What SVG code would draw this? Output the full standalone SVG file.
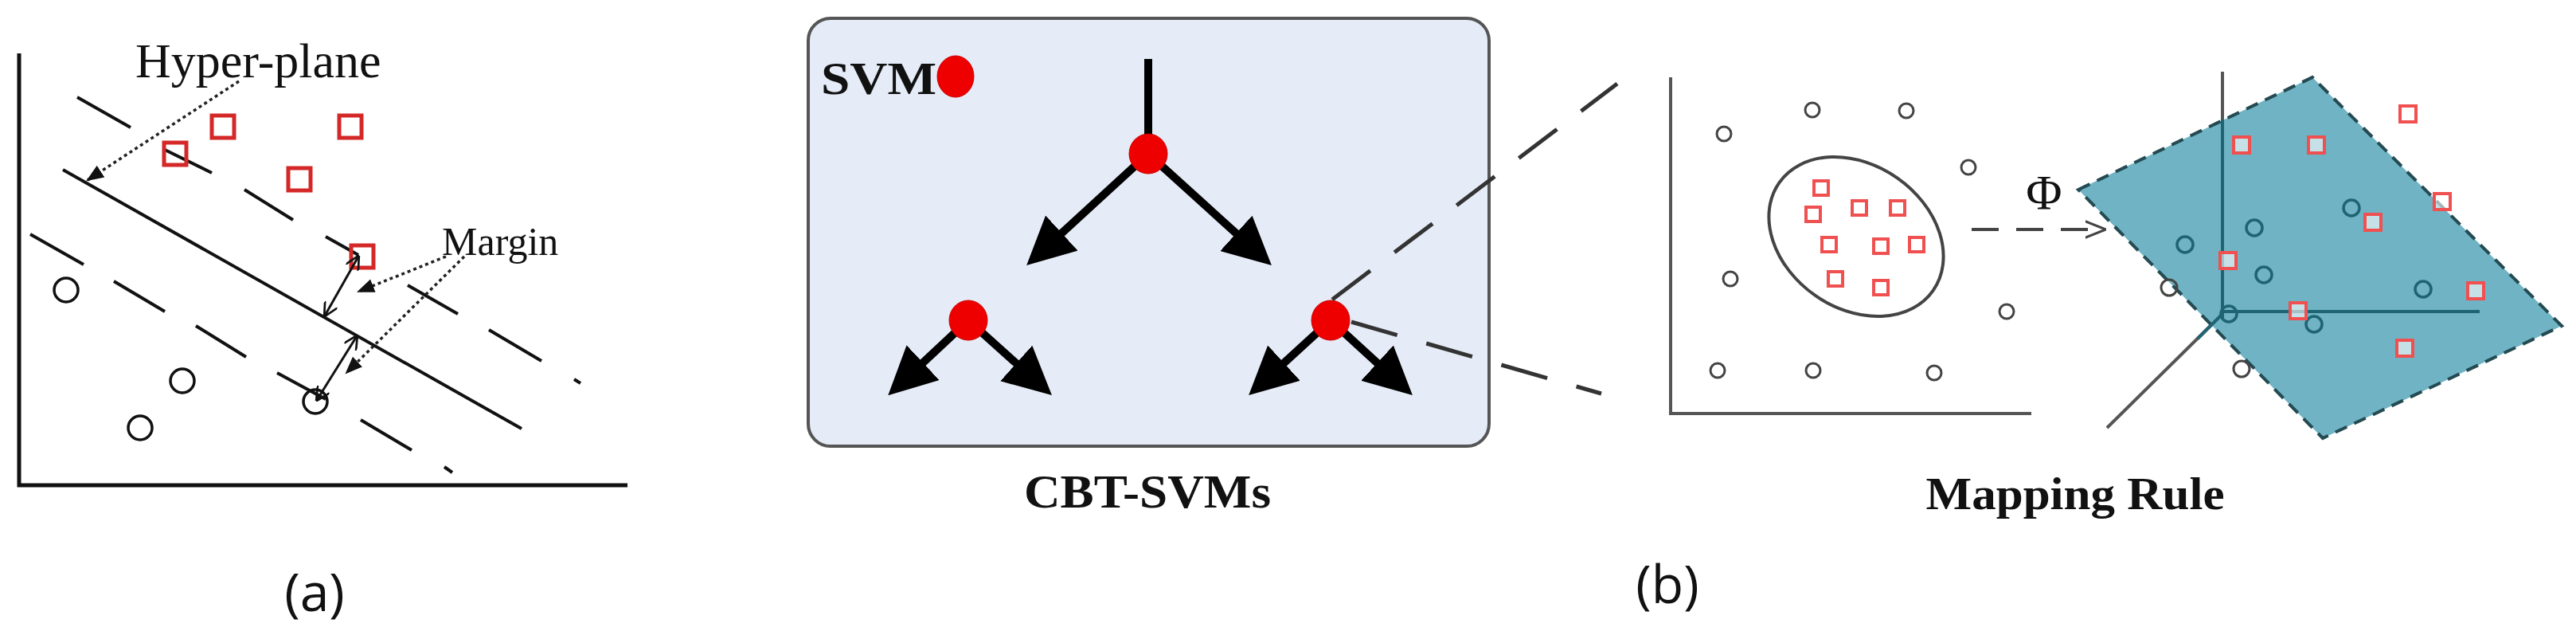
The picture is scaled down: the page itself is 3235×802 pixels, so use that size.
<svg xmlns="http://www.w3.org/2000/svg" width="3235" height="802" viewBox="0 0 3235 802">
<defs>
<style>
.ax{stroke:#111;stroke-width:5;fill:none}
.ln{stroke:#111;stroke-width:4;fill:none}
.dot{stroke:#222;stroke-width:3.5;fill:none;stroke-dasharray:4 4}
.sq{fill:none;stroke:#d42828;stroke-width:5}
.ci{fill:none;stroke:#111;stroke-width:3.5}
.ser{font-family:"Liberation Serif",serif;fill:#111}
.lab{font-family:"Open Sans","Liberation Sans",sans-serif;fill:#111;font-size:66px}
.arr{stroke:#000;stroke-width:10;fill:none}
.node{fill:#ee0000;stroke:#c00;stroke-width:1}
.dash{stroke:#333;stroke-width:5;stroke-dasharray:60 38;fill:none}
.gax{stroke:#555;stroke-width:4;fill:none}
.gc{fill:none;stroke:#444;stroke-width:3}
.rs{fill:#fff;fill-opacity:0.6;stroke:#f05050;stroke-width:4}
.tc{fill:none;stroke:#1f6472;stroke-width:3.5}
</style>
<marker id="fa2" viewBox="0 0 10 10" refX="9" refY="5" markerWidth="22" markerHeight="22" orient="auto" markerUnits="userSpaceOnUse"><path d="M0,1 L10,5 L0,9 z" fill="#111"/></marker>
<marker id="oa" viewBox="0 0 10 10" refX="9" refY="5" markerWidth="18" markerHeight="18" orient="auto-start-reverse" markerUnits="userSpaceOnUse"><path d="M0,0 L10,5 L0,10" fill="none" stroke="#111" stroke-width="1.5"/></marker>
<marker id="big" viewBox="0 0 10 10" refX="8" refY="5" markerWidth="6" markerHeight="6" orient="auto"><path d="M0,0 L10,5 L0,10 z" fill="#000"/></marker>
<marker id="pa" viewBox="0 0 10 10" refX="9" refY="5" markerWidth="26" markerHeight="26" orient="auto" markerUnits="userSpaceOnUse"><path d="M0,1 L10,5 L0,9" fill="none" stroke="#444" stroke-width="1.2"/></marker>
</defs>
<rect width="3235" height="802" fill="#fff"/>

<g id="panel-a">
<path class="ax" d="M24,67 V609 H788"/>
<path class="ln" d="M79,213 L655,538"/>
<path class="ln" d="M97,122 L164,160 M205,187 L266,217 M307,238 L368,276 M409,297 L450,320 M512,358 L575,394 M614,414 L680,453 M721,476 L729,481"/>
<path class="ln" d="M38,294 L105,332 M143,353 L207,391 M246,409 L309,448 M348,468 L409,501 M453,527 L517,565 M558,586 L568,593"/>
<rect class="sq" x="206" y="179" width="28" height="28"/>
<rect class="sq" x="266" y="145" width="28" height="28"/>
<rect class="sq" x="426" y="145" width="28" height="28"/>
<rect class="sq" x="362" y="211" width="28" height="28"/>
<rect class="sq" x="441" y="308" width="28" height="28"/>
<circle class="ci" cx="83" cy="364" r="15"/>
<circle class="ci" cx="229" cy="478" r="15"/>
<circle class="ci" cx="176" cy="537" r="15"/>
<circle class="ci" cx="396" cy="504" r="15"/>
<text class="ser" x="170" y="97" font-size="62">Hyper-plane</text>
<text class="ser" x="555" y="320" font-size="50">Margin</text>
<path class="dot" d="M300,102 L110,226" marker-end="url(#fa2)"/>
<path class="dot" d="M560,322 L450,366" marker-end="url(#fa2)"/>
<path class="dot" d="M583,322 L435,468" marker-end="url(#fa2)"/>
<path stroke="#111" stroke-width="3" fill="none" d="M450,322 L408,396" marker-start="url(#oa)" marker-end="url(#oa)"/>
<path stroke="#111" stroke-width="3" fill="none" d="M448,422 L398,502" marker-start="url(#oa)" marker-end="url(#oa)"/>
<text class="lab" x="395" y="767" text-anchor="middle">(a)</text>
</g>

<g id="cbt-svms">
<rect x="1015" y="23" width="855" height="537" rx="28" fill="#e6ecf7" stroke="#555" stroke-width="4"/>
<text class="ser" x="1031" y="118" font-size="58" font-weight="bold" textLength="145" lengthAdjust="spacingAndGlyphs">SVM</text>
<ellipse class="node" cx="1200" cy="96" rx="23" ry="26"/>
<path class="arr" d="M1442,74 L1442,193"/>
<path class="arr" d="M1442,193 L1298,325" marker-end="url(#big)"/>
<path class="arr" d="M1442,193 L1588,325" marker-end="url(#big)"/>
<path class="arr" d="M1216,402 L1124,488" marker-end="url(#big)"/>
<path class="arr" d="M1216,402 L1312,488" marker-end="url(#big)"/>
<path class="arr" d="M1671,402 L1577,488" marker-end="url(#big)"/>
<path class="arr" d="M1671,402 L1765,488" marker-end="url(#big)"/>
<ellipse class="node" cx="1442" cy="193" rx="24" ry="25"/>
<ellipse class="node" cx="1216" cy="402" rx="24" ry="25"/>
<ellipse class="node" cx="1671" cy="402" rx="24" ry="25"/>
<text class="ser" x="1441" y="637" font-size="60" font-weight="bold" text-anchor="middle" textLength="310" lengthAdjust="spacingAndGlyphs">CBT-SVMs</text>
</g>

<g id="connectors">
<path class="dash" d="M1673,376 L2031,105"/>
<path class="dash" d="M1697,404 L2011,494"/>
</g>

<g id="input-space">
<path class="gax" d="M2098,97 V519 H2551"/>
<g class="gc">
<circle cx="2165" cy="168" r="9"/><circle cx="2276" cy="138" r="9"/><circle cx="2394" cy="139" r="9"/>
<circle cx="2472" cy="210" r="9"/><circle cx="2173" cy="350" r="9"/><circle cx="2520" cy="391" r="9"/>
<circle cx="2157" cy="465" r="9"/><circle cx="2277" cy="465" r="9"/><circle cx="2429" cy="468" r="9"/>
</g>
<ellipse cx="2331" cy="297" rx="118" ry="90" transform="rotate(35 2331 297)" fill="none" stroke="#444" stroke-width="4"/>
<g>
<rect class="rs" x="2278" y="227" width="18" height="18"/><rect class="rs" x="2268" y="260" width="18" height="18"/>
<rect class="rs" x="2326" y="252" width="18" height="18"/><rect class="rs" x="2374" y="252" width="18" height="18"/>
<rect class="rs" x="2288" y="298" width="18" height="18"/><rect class="rs" x="2353" y="300" width="18" height="18"/>
<rect class="rs" x="2398" y="298" width="18" height="18"/><rect class="rs" x="2296" y="341" width="18" height="18"/>
<rect class="rs" x="2353" y="352" width="18" height="18"/>
</g>
<text class="ser" x="2567" y="262" font-size="62" text-anchor="middle">Φ</text>
<path d="M2476,288 L2642,288" stroke="#444" stroke-width="4" stroke-dasharray="34 22" fill="none" marker-end="url(#pa)"/>
</g>

<g id="feature-space">
<path class="gax" d="M2791,90 L2791,399 M2791,394 L2646,537"/>
<polygon points="2610,238 2904,97 3217,409 2917,550" fill="#6fb3c4" stroke="#244a52" stroke-width="4" stroke-dasharray="16 10"/>
<path stroke="#1f6472" stroke-width="4" fill="none" d="M2791,150 L2791,399 M2791,391 L3114,391 M2791,394 L2760,425"/>
<g class="tc">
<circle cx="2744" cy="307" r="10"/><circle cx="2831" cy="286" r="10"/><circle cx="2953" cy="261" r="10"/>
<circle cx="2843" cy="345" r="10"/><circle cx="3043" cy="363" r="10"/><circle cx="2799" cy="394" r="10"/>
<circle cx="2906" cy="407" r="10"/>
</g>
<circle class="gc" cx="2724" cy="361" r="10"/>
<circle class="gc" cx="2815" cy="463" r="10"/>
<g>
<rect class="rs" x="2805" y="172" width="20" height="20"/><rect class="rs" x="2899" y="172" width="20" height="20"/>
<rect class="rs" x="3014" y="133" width="20" height="20"/><rect class="rs" x="3057" y="243" width="20" height="20"/>
<rect class="rs" x="2970" y="269" width="20" height="20"/><rect class="rs" x="2788" y="317" width="20" height="20"/>
<rect class="rs" x="3099" y="355" width="20" height="20"/><rect class="rs" x="2876" y="380" width="20" height="20"/>
<rect class="rs" x="3010" y="427" width="20" height="20"/>
</g>
<text class="ser" x="2606" y="639" font-size="58" font-weight="bold" text-anchor="middle" textLength="375" lengthAdjust="spacingAndGlyphs">Mapping Rule</text>
</g>

<text class="lab" x="2094" y="757" text-anchor="middle">(b)</text>
</svg>
